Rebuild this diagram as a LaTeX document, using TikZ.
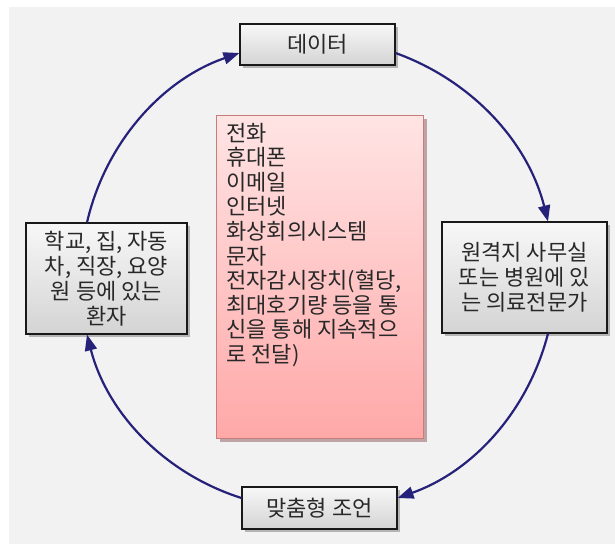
\documentclass[tikz,border=0pt]{standalone}
\usepackage{fontspec}
\setmainfont{Noto Sans CJK KR}
\usetikzlibrary{arrows.meta,shadows}
\definecolor{bgc}{HTML}{F2F2F2}
\definecolor{arrowc}{RGB}{38,34,122}
\definecolor{txtc}{RGB}{40,40,40}
\definecolor{pinktop}{RGB}{255,228,228}
\definecolor{pinkbot}{RGB}{255,168,168}
\definecolor{pinkline}{RGB}{200,125,125}
\tikzset{
  graybox/.style={draw=black!90, line width=1.1pt, top color=white!97!black, bottom color=black!17,
    drop shadow={shadow xshift=3pt, shadow yshift=-3pt, fill=black!45, opacity=0.6},
    text=txtc, font=\fontsize{22}{25}\selectfont, align=center, inner sep=0pt},
  pinkbox/.style={draw=pinkline, line width=1pt, top color=pinktop, bottom color=pinkbot,
    drop shadow={shadow xshift=3pt, shadow yshift=-3pt, fill=pinkline!70!black, opacity=0.5},
    text=txtc, font=\fontsize{22}{24.6}\selectfont, inner sep=0pt},
  flow/.style={draw=arrowc, line width=2.2pt, -{Triangle[length=16pt,width=12pt]}, looseness=0.92}
}
\begin{document}
\begin{tikzpicture}[x=1pt,y=-1pt]
\useasboundingbox (0,0) rectangle (615,544);
\fill[white] (0,0) rectangle (615,544);
\fill[bgc] (9,7) rectangle (615,544);

\node[graybox, minimum width=155pt, minimum height=41pt] (data) at (317.5,44.5) {데이터};
\node[graybox, minimum width=161pt, minimum height=111pt] (patient) at (106.5,278.5)
  {학교, 집, 자동\\차, 직장, 요양\\원 등에 있는\\환자};
\node[graybox, minimum width=165pt, minimum height=111pt] (expert) at (524.5,277.5)
  {원격지 사무실\\또는 병원에 있\\는 의료전문가};
\node[graybox, minimum width=155pt, minimum height=42pt] (advice) at (319.5,508) {맞춤형 조언};

\node[pinkbox, anchor=north west] (media) at (216,115)
  {\parbox[t][323pt][t]{207pt}{\raggedright\leftskip=10pt\vspace*{7.5pt}%
  전화\\
  휴대폰\\
  이메일\\
  인터넷\\
  화상회의시스템\\
  문자\\
  전자감시장치(혈당,\\
  최대호기량 등을 통\\
  신을 통해 지속적으\\
  로 전달)}};

\draw[flow] ([yshift=-8.5pt]data.east) to[bend left=28] ([xshift=23.5pt]expert.north);
\draw[flow] ([xshift=23.5pt]expert.south) to[bend left=28] ([yshift=10pt]advice.east);
\draw[flow] ([yshift=10pt]advice.west) to[bend left=29] ([xshift=-19.5pt]patient.south);
\draw[flow] ([xshift=-19.5pt]patient.north) to[bend left=29] ([yshift=-8.5pt]data.west);
\end{tikzpicture}
\end{document}
